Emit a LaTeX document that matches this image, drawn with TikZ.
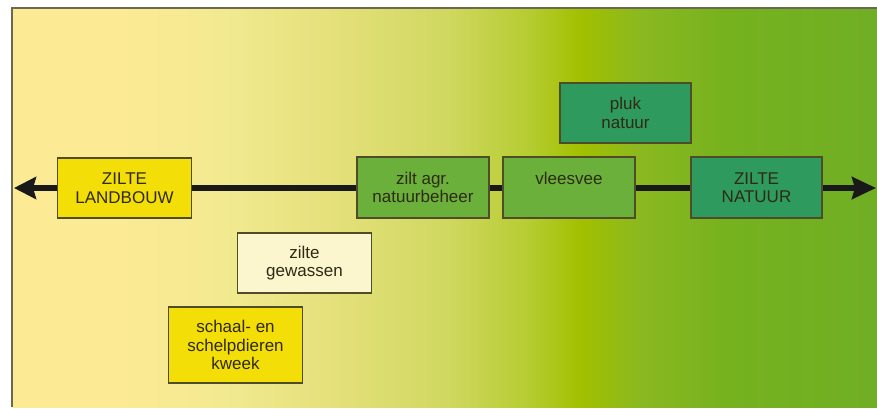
\documentclass[tikz,border=0pt]{standalone}
\usepackage{fontspec}
\setmainfont{Liberation Sans}
\usetikzlibrary{arrows.meta}
\definecolor{g0}{HTML}{FDEA95}
\definecolor{g1}{HTML}{F2EA90}
\definecolor{g2}{HTML}{E4E07A}
\definecolor{g3}{HTML}{D0D860}
\definecolor{g4}{HTML}{B5CC30}
\definecolor{g5}{HTML}{A2C000}
\definecolor{g6}{HTML}{8AB820}
\definecolor{g7}{HTML}{76B21E}
\definecolor{g8}{HTML}{70AE25}
\definecolor{frameline}{HTML}{6B6A50}
\definecolor{boxline}{HTML}{4F4C2A}
\definecolor{yel}{HTML}{F4DE08}
\definecolor{cream}{HTML}{FBF6CE}
\definecolor{grn}{HTML}{6BB03A}
\definecolor{teal}{HTML}{2F9A5E}
\definecolor{txt}{HTML}{2E2A14}
\begin{document}
\begin{tikzpicture}[x=1pt,y=-1pt,
  box/.style={draw=boxline, line width=1.3pt, rectangle, inner sep=0pt,
    align=center, text=txt, font=\fontsize{17}{18.5}\selectfont},
  wide/.style={minimum width=134pt, minimum height=60pt},
  axis/.style={line width=5.5pt, black!90,
    arrows={Stealth[length=22pt,width=22pt,inset=3pt]-Stealth[length=24pt,width=22pt,inset=3pt]}}]
\useasboundingbox (0,0) rectangle (877,409);
% background gradient
\shade[left color=g0,right color=g0] (12,8) rectangle (112,407);
\shade[left color=g0,right color=g1] (111.5,8) rectangle (224,407);
\shade[left color=g1,right color=g2] (223.5,8) rectangle (335,407);
\shade[left color=g2,right color=g3] (334.5,8) rectangle (447,407);
\shade[left color=g3,right color=g4] (446.5,8) rectangle (530,407);
\shade[left color=g4,right color=g5] (529.5,8) rectangle (581,407);
\shade[left color=g5,right color=g6] (580.5,8) rectangle (642,407);
\shade[left color=g6,right color=g7] (641.5,8) rectangle (726,407);
\shade[left color=g7,right color=g8] (725.5,8) rectangle (877,407);
\draw[frameline, line width=1.5pt] (12,407) -- (12,8) -- (877,8);
% axis
\coordinate (lend) at (14,188);
\coordinate (rend) at (876,188);
\draw[axis] (lend) -- (rend);
% boxes
\node[box, wide, fill=yel, minimum height=60pt] (landbouw) at (124.5,188) {ZILTE\\LANDBOUW};
\node[box, wide, fill=grn, minimum width=132pt, minimum height=61pt] (agr) at (423,187.5) {zilt agr.\\natuurbeheer};
\node[box, wide, fill=grn, minimum width=132pt, minimum height=61pt] (vlees) at (569,187.5) {vleesvee\\\phantom{x}};
\node[box, wide, fill=teal, minimum width=131pt] (pluk) at (625.5,113) {pluk\\natuur};
\node[box, wide, fill=teal, minimum width=131pt, minimum height=61pt] (natuur) at (756.5,187.5) {ZILTE\\NATUUR};
\node[box, wide, fill=cream] (gewassen) at (304.5,263) {zilte\\gewassen};
\node[box, wide, fill=yel, minimum height=76pt] (schaal) at (235.5,345) {schaal- en\\schelpdieren\\kweek};
\end{tikzpicture}
\end{document}
